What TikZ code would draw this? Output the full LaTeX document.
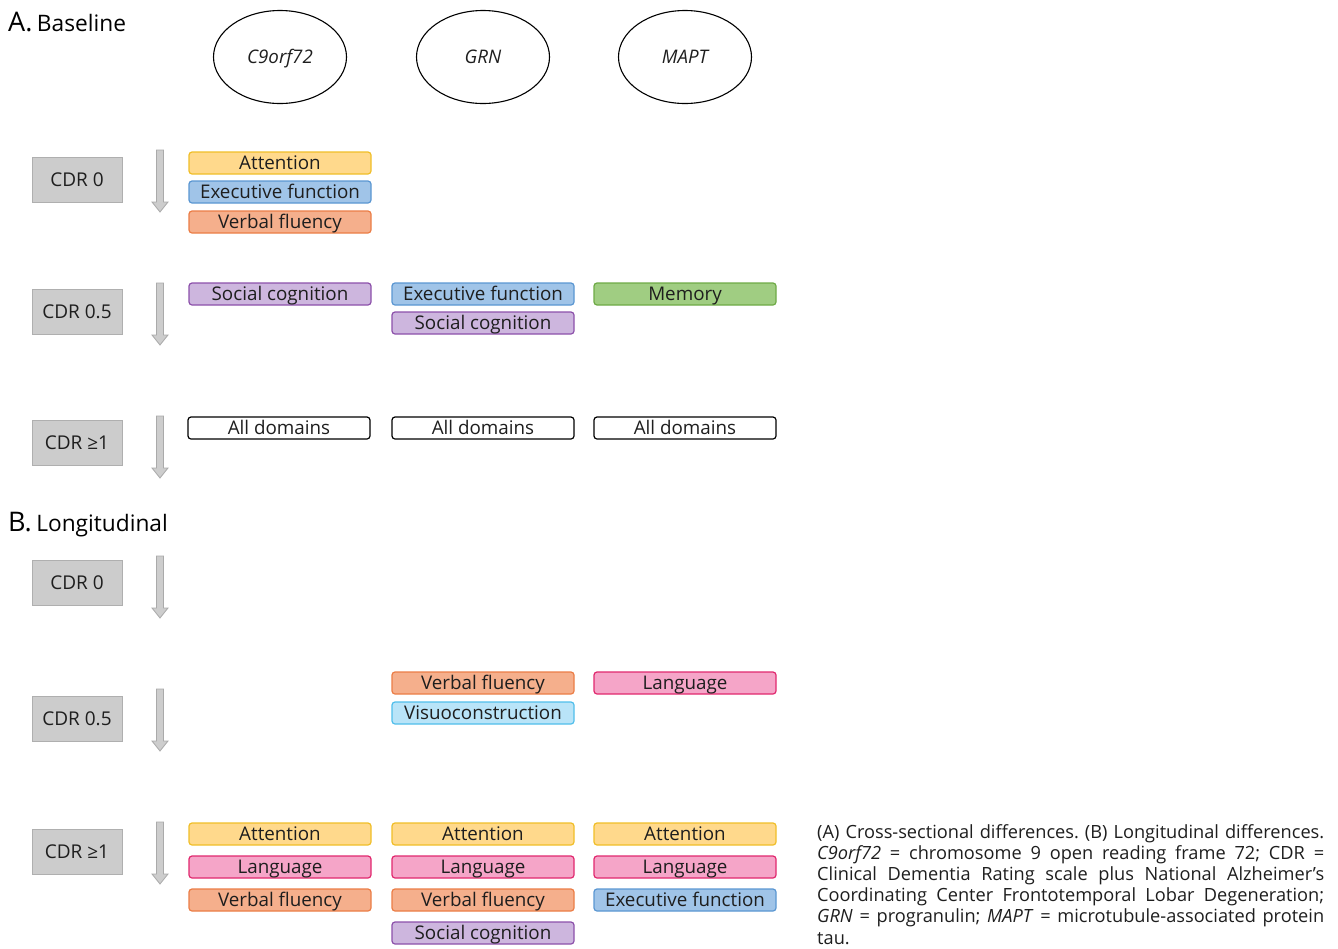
\documentclass[tikz,border=0pt]{standalone}
\usepackage{fontspec}
\setmainfont{Open Sans}
\usetikzlibrary{shapes.geometric}
\definecolor{attF}{RGB}{255,217,140}\definecolor{attD}{RGB}{240,190,40}
\definecolor{exeF}{RGB}{160,196,232}\definecolor{exeD}{RGB}{90,150,210}
\definecolor{verF}{RGB}{245,175,140}\definecolor{verD}{RGB}{235,125,70}
\definecolor{socF}{RGB}{205,182,222}\definecolor{socD}{RGB}{140,80,170}
\definecolor{memF}{RGB}{160,205,130}\definecolor{memD}{RGB}{110,170,70}
\definecolor{lanF}{RGB}{245,165,200}\definecolor{lanD}{RGB}{225,40,110}
\definecolor{visF}{RGB}{185,228,248}\definecolor{visD}{RGB}{80,190,235}
\definecolor{cdrF}{RGB}{204,204,204}\definecolor{cdrD}{RGB}{175,175,175}
\definecolor{arrF}{RGB}{205,205,205}\definecolor{arrD}{RGB}{170,170,170}
\definecolor{txt}{RGB}{30,30,30}
\newcommand\dnarr[3]{\filldraw[fill=arrF,draw=arrD,line width=0.8pt]
  ({#1-3.5},#2) -- ({#1+3.5},#2) -- ({#1+3.5},{#3-10}) -- ({#1+8},{#3-10}) -- (#1,#3)
  -- ({#1-8},{#3-10}) -- ({#1-3.5},{#3-10}) -- cycle;}
\begin{document}
\begin{tikzpicture}[x=1pt,y=-1pt,
  dom/.style={draw, rounded corners=3pt, minimum width=182pt, minimum height=22pt, inner sep=0pt,
    text height=16pt, text depth=2.6pt,
    line width=1.2pt, text=txt, font=\fontsize{18.8}{20}\selectfont},
  att/.style={dom, fill=attF, draw=attD},
  exe/.style={dom, fill=exeF, draw=exeD},
  ver/.style={dom, fill=verF, draw=verD},
  soc/.style={dom, fill=socF, draw=socD},
  mem/.style={dom, fill=memF, draw=memD},
  lan/.style={dom, fill=lanF, draw=lanD},
  vis/.style={dom, fill=visF, draw=visD},
  alld/.style={dom, fill=white, draw=black},
  cdr/.style={draw=cdrD, fill=cdrF, minimum width=90pt, minimum height=45pt, inner sep=0pt,
    text height=16pt, text depth=2.4pt,
    line width=1pt, text=txt, font=\fontsize{19}{21}\selectfont},
  gene/.style={ellipse, draw, line width=1.1pt, minimum width=133pt, minimum height=93pt,
    inner sep=0pt, text height=16pt, text depth=2.6pt,
    text=txt, font=\fontsize{18.7}{21}\selectfont\itshape},
  head/.style={anchor=west, inner sep=0pt, text=black}]
\useasboundingbox (0,0) rectangle (1338,948);
% headings
\node[head] (ha) at (8,22) {\fontsize{27}{29}\selectfont A.\,\fontsize{22.7}{24}\selectfont Baseline};
\node[head] (hb) at (8,525) {\fontsize{27}{29}\selectfont B.\,\fontsize{22.7}{24}\selectfont Longitudinal};
% genes
\node[gene] (g1) at (280,57) {C9orf72};
\node[gene] (g2) at (483,57) {GRN};
\node[gene] (g3) at (685,57) {MAPT};
% CDR boxes
\node[cdr] (a0) at (77,180) {CDR 0};
\node[cdr] (a05) at (77,312) {CDR 0.5};
\node[cdr] (a1) at (77,443) {CDR ≥1};
\node[cdr] (b0) at (77,583) {CDR 0};
\node[cdr] (b05) at (77,719) {CDR 0.5};
\node[cdr] (b1) at (77,852) {CDR ≥1};
% arrows
\dnarr{160}{150}{212}
\dnarr{160}{283}{345}
\dnarr{160}{416}{478}
\dnarr{160}{556}{618}
\dnarr{160}{689}{751}
\dnarr{160}{822}{884}
% A CDR 0
\node[att] (a0c1a) at (280,163) {Attention};
\node[exe] (a0c1b) at (280,192) {Executive function};
\node[ver] (a0c1c) at (280,222) {Verbal fluency};
% A CDR 0.5
\node[soc] (a05c1a) at (280,294) {Social cognition};
\node[exe] (a05c2a) at (483,294) {Executive function};
\node[soc] (a05c2b) at (483,323) {Social cognition};
\node[mem] (a05c3a) at (685,294) {Memory};
% A CDR >=1
\node[alld] (a1c1) at (279,428) {All domains};
\node[alld] (a1c2) at (483,428) {All domains};
\node[alld] (a1c3) at (685,428) {All domains};
% B CDR 0.5
\node[ver] (b05c2a) at (483,683) {Verbal fluency};
\node[vis] (b05c2b) at (483,713) {Visuoconstruction};
\node[lan] (b05c3a) at (685,683) {Language};
% B CDR >=1
\node[att] (b1c1a) at (280,834) {Attention};
\node[lan] (b1c1b) at (280,867) {Language};
\node[ver] (b1c1c) at (280,900) {Verbal fluency};
\node[att] (b1c2a) at (483,834) {Attention};
\node[lan] (b1c2b) at (483,867) {Language};
\node[ver] (b1c2c) at (483,900) {Verbal fluency};
\node[soc] (b1c2d) at (483,933) {Social cognition};
\node[att] (b1c3a) at (685,834) {Attention};
\node[lan] (b1c3b) at (685,867) {Language};
\node[exe] (b1c3c) at (685,900) {Executive function};
% caption
\node[anchor=north west, inner sep=0pt, text width=507pt, align=justify, text=txt,
  font=\fontsize{18.2}{21.2}\selectfont] (cap) at (817,824)
  {\frenchspacing\lefthyphenmin=60 (A) Cross-sectional differences. (B) Longitudinal differences.\linebreak
   \textit{C9orf72} = chromosome 9 open reading frame 72; CDR =\linebreak
   Clinical Dementia Rating scale plus National Alzheimer’s\linebreak
   Coordinating Center Frontotemporal Lobar Degeneration;\linebreak
   \textit{GRN} = progranulin; \textit{MAPT} = microtubule-associated protein\linebreak
   tau.};
\end{tikzpicture}
\end{document}
